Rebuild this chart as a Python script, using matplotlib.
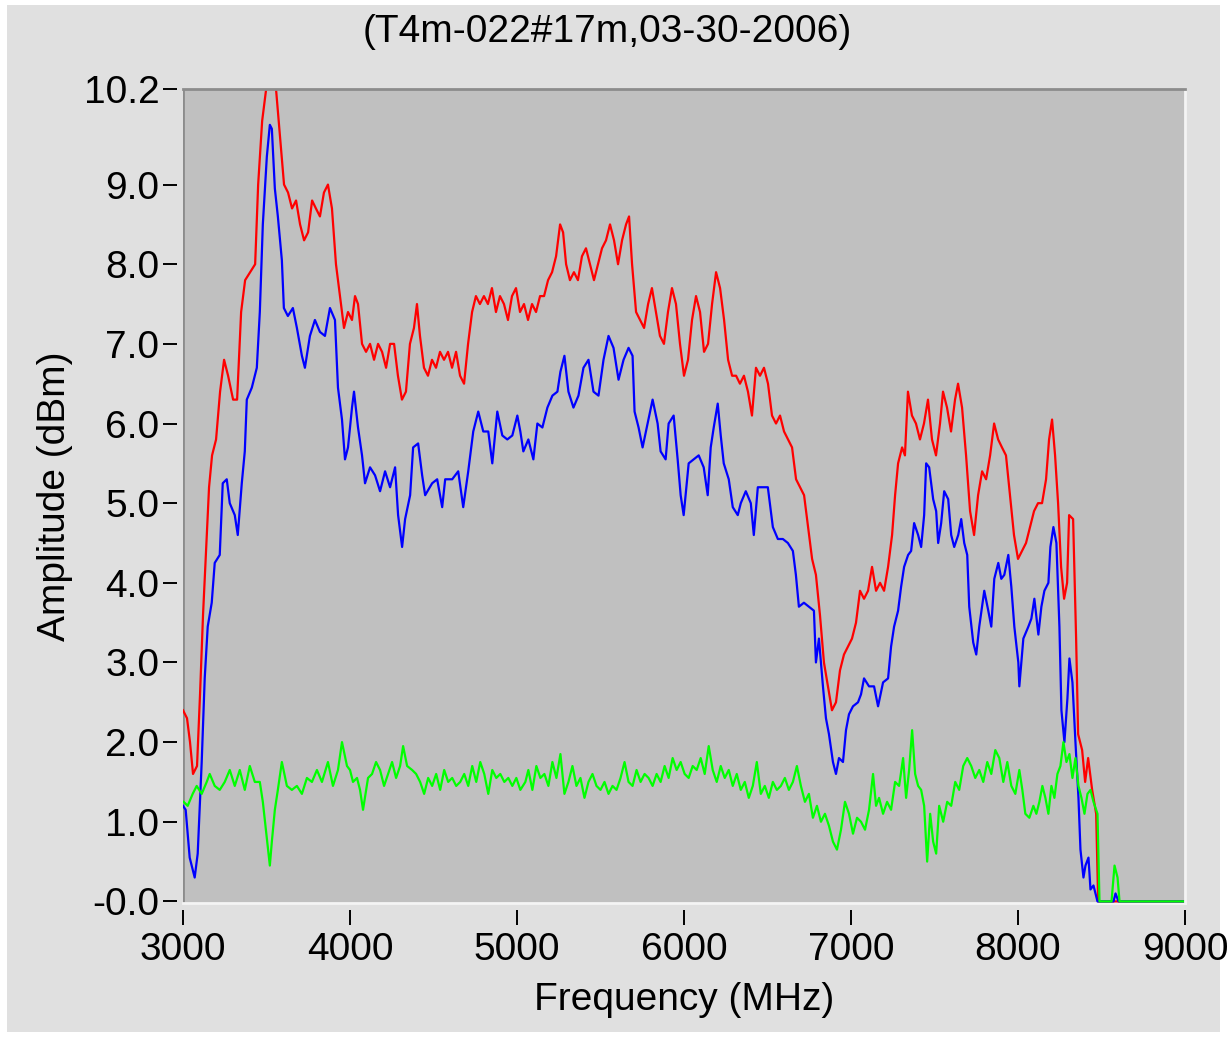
import matplotlib
matplotlib.use('Agg')
import matplotlib.pyplot as plt
from matplotlib.patches import Rectangle

TITLE = '(T4m-022#17m,03-30-2006)'

red_freq = [3000, 3024, 3042, 3060, 3084, 3102, 3120, 3138, 3156, 3174, 3198, 3222, 3246, 3270, 3300,
            3324, 3348, 3372, 3402, 3432, 3450, 3474, 3498, 3557, 3581, 3605, 3629, 3653, 3677, 3701,
            3725, 3749, 3773, 3796, 3820, 3844, 3868, 3892, 3916, 3940, 3964, 3988, 4012, 4030, 4048,
            4072, 4096, 4120, 4144, 4168, 4192, 4216, 4240, 4264, 4287, 4311, 4335, 4359, 4383, 4401,
            4419, 4443, 4467, 4491, 4515, 4539, 4563, 4587, 4611, 4635, 4659, 4683, 4707, 4731, 4754,
            4778, 4802, 4826, 4850, 4874, 4898, 4922, 4946, 4970, 4994, 5018, 5042, 5066, 5090, 5114,
            5138, 5162, 5186, 5210, 5234, 5258, 5276, 5294, 5317, 5341, 5365, 5389, 5413, 5437, 5461,
            5485, 5509, 5533, 5557, 5581, 5605, 5629, 5653, 5671, 5689, 5713, 5737, 5761, 5785, 5808,
            5832, 5856, 5880, 5904, 5928, 5952, 5976, 6000, 6024, 6048, 6072, 6096, 6120, 6144, 6168,
            6192, 6216, 6240, 6264, 6288, 6312, 6335, 6359, 6383, 6407, 6431, 6455, 6479, 6503, 6527,
            6551, 6575, 6599, 6623, 6647, 6671, 6695, 6719, 6743, 6767, 6790, 6814, 6838, 6862, 6886,
            6910, 6934, 6958, 6982, 7006, 7030, 7054, 7078, 7102, 7126, 7150, 7174, 7198, 7222, 7246,
            7264, 7282, 7306, 7323, 7341, 7365, 7389, 7413, 7437, 7461, 7485, 7509, 7533, 7551, 7575,
            7599, 7623, 7641, 7665, 7689, 7713, 7737, 7761, 7785, 7809, 7833, 7857, 7881, 7904, 7928,
            7952, 7976, 8000, 8024, 8048, 8072, 8096, 8120, 8144, 8168, 8186, 8204, 8222, 8240, 8258,
            8276, 8294, 8306, 8330, 8348, 8360, 8384, 8402, 8420, 8444, 8468, 8480, 9000]
red_amp = [2.4, 2.3, 2.0, 1.6, 1.7, 2.6, 3.6, 4.4, 5.2, 5.6, 5.8, 6.4, 6.8, 6.6, 6.3,
           6.3, 7.4, 7.8, 7.9, 8.0, 9.0, 9.8, 10.2, 10.2, 9.6, 9.0, 8.9, 8.7, 8.8, 8.5,
           8.3, 8.4, 8.8, 8.7, 8.6, 8.9, 9.0, 8.7, 8.0, 7.6, 7.2, 7.4, 7.3, 7.6, 7.5,
           7.0, 6.9, 7.0, 6.8, 7.0, 6.9, 6.7, 7.0, 7.0, 6.6, 6.3, 6.4, 7.0, 7.2, 7.5,
           7.1, 6.7, 6.6, 6.8, 6.7, 6.9, 6.8, 6.9, 6.7, 6.9, 6.6, 6.5, 7.0, 7.4, 7.6,
           7.5, 7.6, 7.5, 7.7, 7.4, 7.6, 7.5, 7.3, 7.6, 7.7, 7.4, 7.5, 7.3, 7.5, 7.4,
           7.6, 7.6, 7.8, 7.9, 8.1, 8.5, 8.4, 8.0, 7.8, 7.9, 7.8, 8.1, 8.2, 8.0, 7.8,
           8.0, 8.2, 8.3, 8.5, 8.3, 8.0, 8.3, 8.5, 8.6, 8.0, 7.4, 7.3, 7.2, 7.5, 7.7,
           7.4, 7.1, 7.0, 7.4, 7.7, 7.5, 7.0, 6.6, 6.8, 7.3, 7.6, 7.4, 6.9, 7.0, 7.5,
           7.9, 7.7, 7.3, 6.8, 6.6, 6.6, 6.5, 6.6, 6.4, 6.1, 6.7, 6.6, 6.7, 6.5, 6.1,
           6.0, 6.1, 5.9, 5.8, 5.7, 5.3, 5.2, 5.1, 4.7, 4.3, 4.1, 3.6, 3.0, 2.7, 2.4,
           2.5, 2.9, 3.1, 3.2, 3.3, 3.5, 3.9, 3.8, 3.9, 4.2, 3.9, 4.0, 3.9, 4.2, 4.6,
           5.1, 5.5, 5.7, 5.6, 6.4, 6.1, 6.0, 5.8, 6.0, 6.3, 5.8, 5.6, 6.0, 6.4, 6.2,
           5.9, 6.3, 6.5, 6.2, 5.6, 4.9, 4.6, 5.1, 5.4, 5.3, 5.6, 6.0, 5.8, 5.7, 5.6,
           5.1, 4.6, 4.3, 4.4, 4.5, 4.7, 4.9, 5.0, 5.0, 5.3, 5.8, 6.05, 5.6, 5.0, 4.2,
           3.8, 4.0, 4.85, 4.8, 3.3, 2.1, 1.9, 1.5, 1.8, 1.4, 1.1, 0.0, 0.0]

blue_freq = [3000, 3016, 3040, 3070, 3088, 3112, 3130, 3148, 3172, 3190, 3220, 3238, 3262, 3280, 3310,
             3328, 3352, 3370, 3382, 3412, 3442, 3460, 3478, 3502, 3520, 3532, 3550, 3568, 3592, 3604,
             3628, 3658, 3682, 3712, 3730, 3760, 3790, 3820, 3850, 3880, 3910, 3928, 3952, 3970, 3988,
             4012, 4024, 4048, 4072, 4090, 4120, 4150, 4180, 4210, 4240, 4270, 4288, 4312, 4330, 4360,
             4378, 4408, 4432, 4450, 4492, 4522, 4552, 4570, 4612, 4648, 4678, 4708, 4738, 4768, 4798,
             4828, 4852, 4882, 4912, 4942, 4972, 5002, 5020, 5038, 5068, 5098, 5122, 5152, 5182, 5212,
             5242, 5260, 5284, 5308, 5338, 5368, 5398, 5428, 5458, 5488, 5518, 5548, 5578, 5608, 5638,
             5668, 5692, 5704, 5728, 5752, 5782, 5812, 5842, 5860, 5890, 5908, 5938, 5962, 5980, 5998,
             6028, 6058, 6088, 6118, 6142, 6160, 6178, 6202, 6220, 6238, 6268, 6292, 6322, 6340, 6370,
             6400, 6418, 6442, 6472, 6502, 6532, 6562, 6592, 6622, 6652, 6670, 6688, 6718, 6748, 6778,
             6790, 6808, 6832, 6850, 6868, 6892, 6910, 6928, 6952, 6970, 6988, 7012, 7042, 7060, 7078,
             7108, 7138, 7162, 7192, 7222, 7240, 7258, 7282, 7300, 7318, 7342, 7360, 7378, 7402, 7420,
             7438, 7450, 7468, 7492, 7510, 7522, 7540, 7558, 7582, 7600, 7618, 7642, 7660, 7678, 7696,
             7708, 7732, 7750, 7768, 7798, 7822, 7840, 7858, 7882, 7900, 7918, 7942, 7960, 7978, 8002,
             8008, 8032, 8062, 8080, 8098, 8122, 8140, 8158, 8182, 8194, 8212, 8230, 8248, 8260, 8278,
             8296, 8308, 8326, 8344, 8362, 8374, 8392, 8404, 8422, 8434, 8452, 8476, 8572, 8584, 8602,
             9000]
blue_amp = [1.2, 1.15, 0.55, 0.3, 0.6, 1.75, 2.8, 3.45, 3.75, 4.25, 4.35, 5.25, 5.3, 5.0, 4.85,
            4.6, 5.25, 5.65, 6.3, 6.45, 6.7, 7.4, 8.5, 9.35, 9.75, 9.7, 8.95, 8.6, 8.05, 7.45,
            7.35, 7.45, 7.2, 6.85, 6.7, 7.1, 7.3, 7.15, 7.1, 7.45, 7.3, 6.45, 6.05, 5.55, 5.7,
            6.2, 6.4, 5.95, 5.6, 5.25, 5.45, 5.35, 5.15, 5.4, 5.2, 5.45, 4.85, 4.45, 4.8, 5.1,
            5.7, 5.75, 5.35, 5.1, 5.25, 5.3, 4.95, 5.3, 5.3, 5.4, 4.95, 5.4, 5.9, 6.15, 5.9,
            5.9, 5.5, 6.15, 5.85, 5.8, 5.85, 6.1, 5.9, 5.65, 5.8, 5.55, 6.0, 5.95, 6.2, 6.35,
            6.4, 6.65, 6.85, 6.4, 6.2, 6.35, 6.7, 6.8, 6.4, 6.35, 6.8, 7.1, 6.95, 6.55, 6.8,
            6.95, 6.85, 6.15, 5.95, 5.7, 6.0, 6.3, 6.0, 5.65, 5.55, 6.0, 6.1, 5.55, 5.1, 4.85,
            5.5, 5.55, 5.6, 5.45, 5.1, 5.7, 5.95, 6.25, 5.85, 5.5, 5.3, 4.95, 4.85, 5.0, 5.15,
            5.0, 4.6, 5.2, 5.2, 5.2, 4.7, 4.55, 4.55, 4.5, 4.4, 4.1, 3.7, 3.75, 3.7, 3.65,
            3.0, 3.3, 2.7, 2.3, 2.1, 1.75, 1.6, 1.8, 1.75, 2.15, 2.35, 2.45, 2.5, 2.6, 2.8,
            2.7, 2.7, 2.45, 2.75, 2.8, 3.2, 3.45, 3.65, 3.95, 4.2, 4.35, 4.4, 4.75, 4.6, 4.45,
            4.85, 5.5, 5.45, 5.05, 4.9, 4.5, 4.75, 5.15, 5.05, 4.6, 4.45, 4.6, 4.8, 4.5, 4.35,
            3.7, 3.25, 3.1, 3.45, 3.9, 3.65, 3.45, 4.05, 4.25, 4.05, 4.1, 4.35, 3.95, 3.45, 3.0,
            2.7, 3.3, 3.45, 3.55, 3.8, 3.35, 3.7, 3.9, 4.0, 4.45, 4.7, 4.5, 3.45, 2.4, 2.0,
            2.55, 3.05, 2.75, 2.0, 1.3, 0.65, 0.3, 0.45, 0.55, 0.15, 0.2, 0.0, 0.0, 0.1, 0.0,
            0.0]

green_freq = [3004, 3028, 3058, 3082, 3112, 3142, 3160, 3190, 3220, 3250, 3280, 3310, 3340, 3370, 3400,
              3430, 3460, 3478, 3502, 3520, 3532, 3550, 3568, 3592, 3622, 3652, 3682, 3712, 3742, 3772,
              3802, 3832, 3868, 3898, 3928, 3952, 3982, 4000, 4018, 4042, 4060, 4078, 4108, 4132, 4156,
              4180, 4204, 4228, 4252, 4276, 4300, 4318, 4342, 4372, 4396, 4420, 4444, 4468, 4492, 4516,
              4540, 4564, 4588, 4612, 4636, 4660, 4684, 4708, 4732, 4756, 4780, 4804, 4828, 4852, 4876,
              4900, 4924, 4948, 4972, 4996, 5020, 5050, 5068, 5092, 5116, 5140, 5164, 5188, 5212, 5236,
              5260, 5284, 5308, 5332, 5356, 5380, 5404, 5428, 5452, 5476, 5500, 5524, 5548, 5572, 5596,
              5620, 5644, 5668, 5692, 5716, 5740, 5764, 5788, 5812, 5836, 5860, 5884, 5908, 5932, 5956,
              5980, 6004, 6028, 6052, 6076, 6100, 6124, 6148, 6172, 6196, 6220, 6244, 6268, 6292, 6316,
              6340, 6364, 6388, 6412, 6436, 6460, 6484, 6508, 6532, 6556, 6580, 6604, 6628, 6652, 6676,
              6700, 6724, 6748, 6772, 6796, 6820, 6844, 6868, 6892, 6916, 6940, 6964, 6988, 7012, 7036,
              7060, 7084, 7108, 7132, 7150, 7168, 7192, 7216, 7240, 7264, 7288, 7312, 7330, 7348, 7366,
              7384, 7402, 7420, 7438, 7456, 7474, 7492, 7510, 7528, 7552, 7576, 7600, 7624, 7648, 7672,
              7696, 7720, 7744, 7768, 7792, 7816, 7840, 7864, 7888, 7912, 7936, 7960, 7984, 8008, 8026,
              8044, 8068, 8092, 8110, 8128, 8146, 8164, 8182, 8200, 8218, 8236, 8254, 8272, 8290, 8308,
              8326, 8344, 8362, 8380, 8398, 8416, 8434, 8452, 8476, 8488, 8560, 8578, 8596, 8608, 9000]
green_amp = [1.25, 1.2, 1.35, 1.45, 1.35, 1.5, 1.6, 1.45, 1.4, 1.5, 1.65, 1.45, 1.65, 1.4, 1.7,
             1.5, 1.5, 1.25, 0.8, 0.45, 0.75, 1.15, 1.4, 1.75, 1.45, 1.4, 1.45, 1.35, 1.55, 1.5,
             1.65, 1.5, 1.75, 1.45, 1.65, 2.0, 1.7, 1.65, 1.5, 1.55, 1.4, 1.15, 1.55, 1.6, 1.75,
             1.65, 1.45, 1.6, 1.75, 1.55, 1.7, 1.95, 1.7, 1.65, 1.6, 1.5, 1.35, 1.55, 1.45, 1.6,
             1.4, 1.65, 1.5, 1.55, 1.45, 1.5, 1.6, 1.45, 1.7, 1.5, 1.75, 1.6, 1.35, 1.65, 1.55,
             1.6, 1.5, 1.55, 1.45, 1.55, 1.4, 1.5, 1.65, 1.4, 1.7, 1.55, 1.6, 1.45, 1.75, 1.55,
             1.85, 1.35, 1.5, 1.7, 1.45, 1.55, 1.3, 1.5, 1.6, 1.45, 1.4, 1.5, 1.35, 1.45, 1.4,
             1.55, 1.75, 1.5, 1.45, 1.65, 1.5, 1.6, 1.55, 1.45, 1.6, 1.5, 1.7, 1.55, 1.8, 1.65,
             1.75, 1.6, 1.55, 1.7, 1.65, 1.8, 1.6, 1.95, 1.65, 1.5, 1.7, 1.55, 1.65, 1.45, 1.6,
             1.4, 1.5, 1.3, 1.45, 1.75, 1.35, 1.45, 1.3, 1.5, 1.4, 1.45, 1.55, 1.4, 1.5, 1.7,
             1.45, 1.25, 1.35, 1.05, 1.2, 1.0, 1.1, 0.95, 0.75, 0.65, 0.9, 1.25, 1.1, 0.85, 1.05,
             1.0, 0.9, 1.15, 1.6, 1.2, 1.3, 1.1, 1.25, 1.15, 1.5, 1.45, 1.8, 1.3, 1.65, 2.15,
             1.6, 1.45, 1.4, 1.2, 0.5, 1.1, 0.75, 0.6, 1.2, 1.0, 1.25, 1.2, 1.5, 1.4, 1.7,
             1.8, 1.7, 1.55, 1.65, 1.5, 1.75, 1.6, 1.9, 1.8, 1.5, 1.75, 1.45, 1.35, 1.65, 1.4,
             1.1, 1.05, 1.2, 1.1, 1.25, 1.45, 1.3, 1.1, 1.45, 1.3, 1.6, 1.7, 2.0, 1.75, 1.85,
             1.55, 1.8, 1.45, 1.3, 1.1, 1.35, 1.4, 1.25, 1.1, 0.0, 0.0, 0.45, 0.3, 0.0, 0.0]

x_ticks = [3000, 4000, 5000, 6000, 7000, 8000, 9000]
y_ticks = [0, 1, 2, 3, 4, 5, 6, 7, 8, 9, 10.2]
y_tick_labels = ['-0.0', '1.0', '2.0', '3.0', '4.0', '5.0', '6.0', '7.0', '8.0', '9.0', '10.2']

plt.rcParams.update({
    'font.size': 28,
    'font.family': ['Liberation Sans', 'DejaVu Sans'],
})

fig = plt.figure(figsize=(12.27, 10.38), dpi=100, facecolor='white')
# light grey panel with a thin white margin, like the original window
fig.patches.append(Rectangle((7 / 1227, 6 / 1038), 1 - 14 / 1227, 1 - 11 / 1038,
                             transform=fig.transFigure, facecolor='#e0e0e0',
                             edgecolor='none', zorder=-10))

ax = fig.add_axes([183 / 1227, 1 - 903 / 1038, 1002 / 1227, 814 / 1038])
ax.set_facecolor('#c0c0c0')

ax.plot(red_freq, red_amp, color='#ff0000', linewidth=1.6)
ax.plot(blue_freq, blue_amp, color='#0000ff', linewidth=1.6)
ax.plot(green_freq, green_amp, color='#00ff00', linewidth=1.6)

ax.set_xlim(3000, 9000)
ax.set_ylim(-0.02, 10.2)
ax.set_xticks(x_ticks)
ax.set_xticklabels([str(t) for t in x_ticks])
ax.set_yticks(y_ticks)
ax.set_yticklabels(y_tick_labels)

ax.tick_params(axis='x', direction='out', length=11, width=1.4, pad=5, color='black')
ax.tick_params(axis='y', direction='out', length=10, width=1.4, pad=3, color='black')

# ticks sit a few pixels away from the plot frame
ax.spines['bottom'].set_position(('outward', 5))
ax.spines['left'].set_position(('outward', 4))
ax.spines['bottom'].set_visible(False)
ax.spines['left'].set_visible(False)

# sunken frame look: dark top/left, light bottom/right
ax.spines['top'].set_color('#8c8c8c')
ax.spines['top'].set_linewidth(2)
ax.spines['right'].set_color('#f4f4f4')
ax.spines['right'].set_linewidth(2)
ax.axvline(3000, color='#8c8c8c', linewidth=2, zorder=1.5)
ax.axhline(-0.02, color='#f4f4f4', linewidth=2, zorder=1.5, clip_on=False)

ax.set_xlabel('Frequency (MHz)', labelpad=10)
ax.set_ylabel('Amplitude (dBm)', labelpad=8)
fig.text(0.495, 1 - 32 / 1038, TITLE, ha='center', va='center')

plt.savefig('out.png', dpi=100, facecolor=fig.get_facecolor())
